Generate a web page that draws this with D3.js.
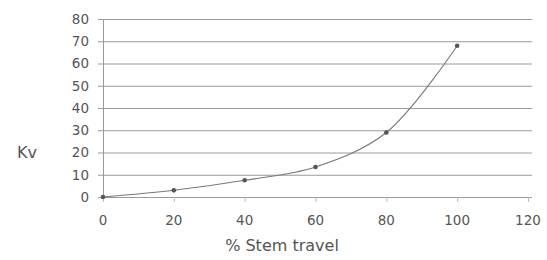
<!DOCTYPE html>
<html>
<head>
<meta charset="utf-8">
<script src="https://cdn.jsdelivr.net/npm/d3@7"></script>
<style>
  body { margin: 0; background: #fff; }
  text { font-family: "DejaVu Sans", Verdana, sans-serif; fill: #555; }
</style>
</head>
<body>
<div class="chart"></div>
<script>
// data
var stemTravel = [0, 20, 40, 60, 80, 100];
var kvValues = [0, 3, 7.5, 13.5, 29, 68];
var xTicks = [0, 20, 40, 60, 80, 100, 120];
var yTicks = [0, 10, 20, 30, 40, 50, 60, 70, 80];

var svgWidth = 547;
var svgHeight = 260;
var margin = { top: 19, right: 19, bottom: 63, left: 103 };
var width = svgWidth - margin.left - margin.right;
var height = svgHeight - margin.top - margin.bottom;

var svg = d3.select('.chart')
  .append('svg')
    .attr('width', svgWidth)
    .attr('height', svgHeight);

var chart = svg.append('g')
    .attr('transform', 'translate(' + margin.left + ',' + margin.top + ')');

var xScale = d3.scaleLinear().domain([0, 120]).range([0, 425]);
var yScale = d3.scaleLinear().domain([0, 80]).range([height, 0]);

// horizontal gridlines
chart.append('g')
  .selectAll('line')
  .data(yTicks)
  .enter().append('line')
    .attr('x1', -5)
    .attr('x2', xScale(120) + 4)
    .attr('y1', function(d) { return yScale(d) + 0.5; })
    .attr('y2', function(d) { return yScale(d) + 0.5; })
    .attr('stroke', '#9a9a9a')
    .attr('stroke-width', 1);

// y axis line
chart.append('line')
  .attr('x1', 0.5).attr('x2', 0.5)
  .attr('y1', yScale(80)).attr('y2', yScale(0))
  .attr('stroke', '#9a9a9a');

// y tick labels
chart.append('g')
  .selectAll('text')
  .data(yTicks)
  .enter().append('text')
    .attr('x', -14)
    .attr('y', function(d) { return yScale(d); })
    .attr('dy', '0.36em')
    .attr('text-anchor', 'end')
    .attr('font-size', 13.5)
    .text(function(d) { return d; });

// x ticks and labels
var xAxis = chart.append('g');
xAxis.selectAll('line')
  .data(xTicks)
  .enter().append('line')
    .attr('x1', function(d) { return xScale(d) + 0.5; })
    .attr('x2', function(d) { return xScale(d) + 0.5; })
    .attr('y1', height)
    .attr('y2', height + 5)
    .attr('stroke', '#bbb');
xAxis.selectAll('text')
  .data(xTicks)
  .enter().append('text')
    .attr('x', function(d) { return xScale(d); })
    .attr('y', height + 28)
    .attr('text-anchor', 'middle')
    .attr('font-size', 13.5)
    .text(function(d) { return d; });

// smoothed curve
var points = stemTravel.map(function(x, i) { return [x, kvValues[i]]; });
var line = d3.line()
  .x(function(d) { return xScale(d[0]); })
  .y(function(d) { return yScale(d[1]); })
  .curve(d3.curveCatmullRom.alpha(0.5));

chart.append('path')
  .datum(points)
  .attr('d', line)
  .attr('fill', 'none')
  .attr('stroke', '#777')
  .attr('stroke-width', 1.1);

chart.selectAll('circle')
  .data(points)
  .enter().append('circle')
    .attr('cx', function(d) { return xScale(d[0]); })
    .attr('cy', function(d) { return yScale(d[1]); })
    .attr('r', 2.3)
    .attr('fill', '#555');

// axis titles
svg.append('text')
  .attr('x', 27)
  .attr('y', 158)
  .attr('text-anchor', 'middle')
  .attr('font-size', 16)
  .text('Kv');

svg.append('text')
  .attr('x', 282)
  .attr('y', 251)
  .attr('text-anchor', 'middle')
  .attr('font-size', 16)
  .text('% Stem travel');
</script>
</body>
</html>
